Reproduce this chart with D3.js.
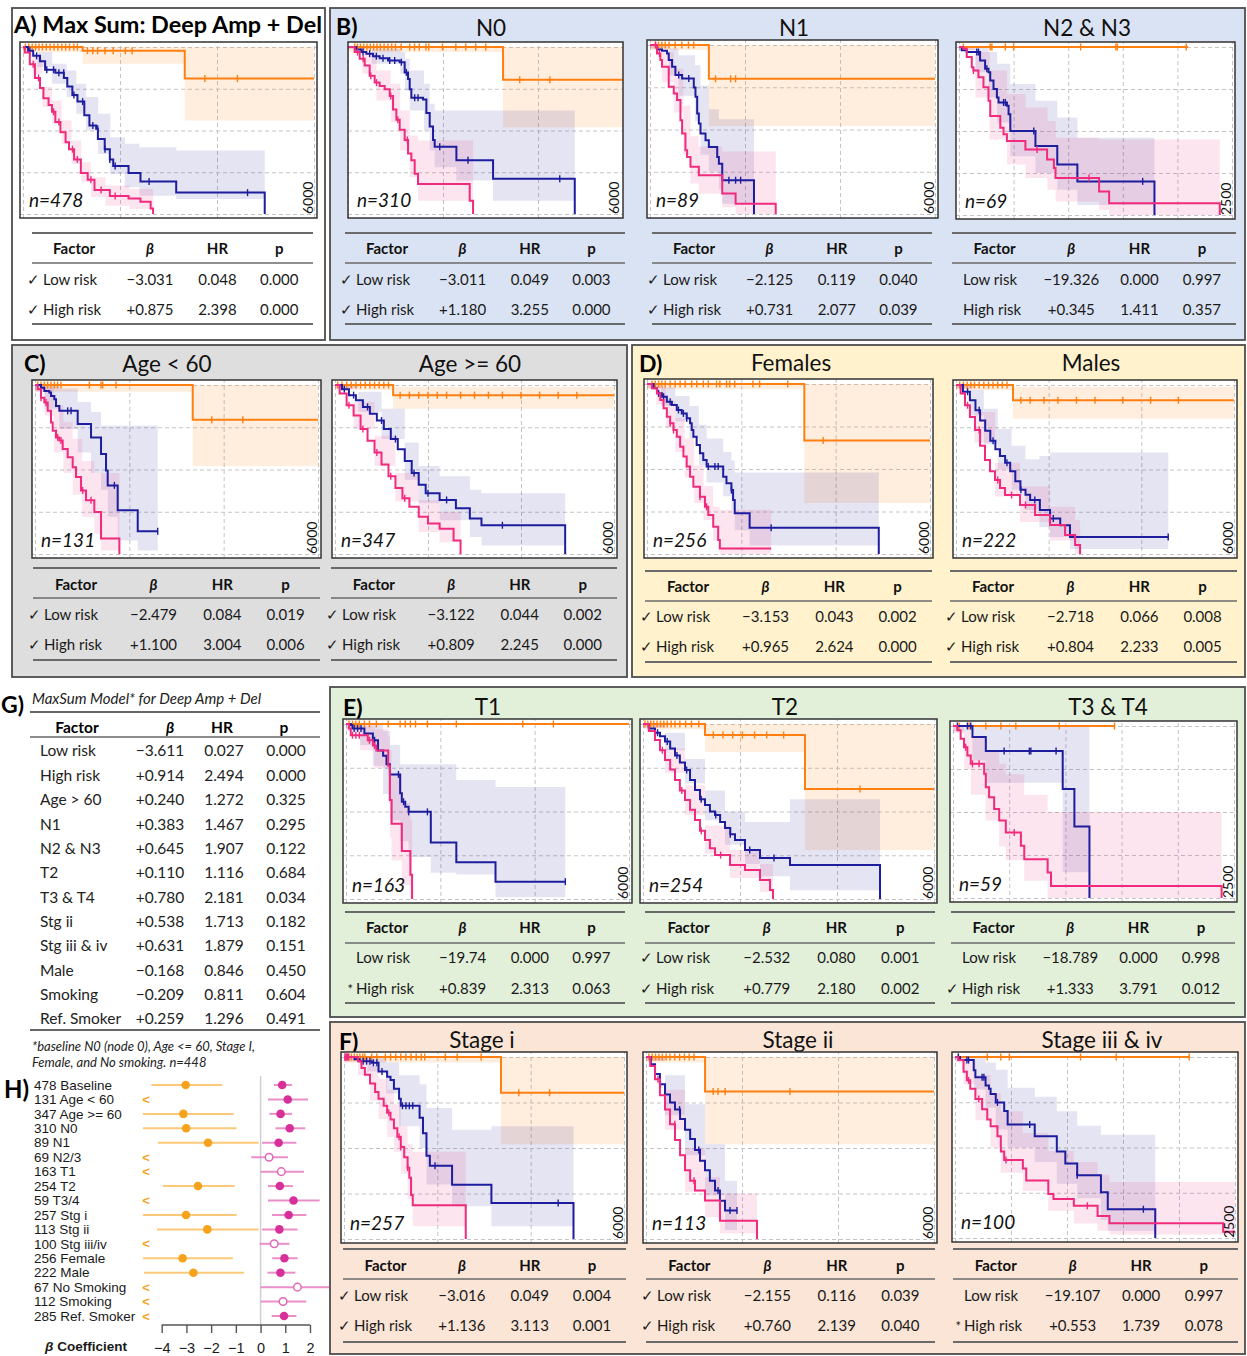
<!DOCTYPE html>
<html><head><meta charset="utf-8">
<script src="https://cdn.jsdelivr.net/npm/d3@7"></script>
<style>
body{margin:0;background:#fff;}
svg{display:block;font-family:Lato,'Open Sans',sans-serif;}
</style></head><body>
<script>
// ---------- Kaplan-Meier curves: s = [time, survival] steps, c = censor times, ci = [time, lower, upper]
const A_low = {s:[[0,1],[1230,0.978],[3335,0.811],[6000,0.811]], c:[50,120,190,260,330,400,480,560,640,720,800,880,960,1050,1120,1330,1440,1540,1690,1860,2110,2250,3750,4420], ci:[[0,0.97,1],[1230,0.9,1],[3335,0.56,1],[6000,0.56,1]]};
const A_mid = {s:[[0,1],[105,0.978],[210,0.947],[350,0.915],[456,0.864],[667,0.846],[842,0.815],[913,0.764],[1018,0.713],[1123,0.673],[1264,0.591],[1369,0.53],[1509,0.51],[1544,0.449],[1685,0.388],[1790,0.327],[1860,0.287],[2176,0.246],[2422,0.195],[3159,0.128],[4984,0]], c:[140,280,490,630,740,840,1050,1230,1440,1540,1690,1790,1900,2600,4630], ci:[[0,0.99,1],[300,0.88,0.97],[600,0.78,0.9],[900,0.7,0.86],[1100,0.6,0.78],[1300,0.5,0.7],[1550,0.36,0.6],[1800,0.24,0.46],[2100,0.16,0.42],[2400,0.11,0.4],[3160,0.09,0.38],[4984,0.09,0.38]]};
const A_high = {s:[[0,1],[35,0.967],[140,0.896],[246,0.815],[351,0.754],[421,0.693],[527,0.652],[597,0.612],[667,0.551],[772,0.49],[878,0.429],[948,0.388],[1053,0.327],[1193,0.246],[1334,0.205],[1474,0.144],[1790,0.108],[2176,0.093],[2422,0.073],[2632,0.033],[2682,0]], c:[210,320,630,740,1020,1120,1400,1610,1900], ci:[[0,0.98,1],[200,0.84,0.94],[400,0.64,0.76],[600,0.54,0.68],[800,0.42,0.56],[1000,0.3,0.44],[1200,0.19,0.31],[1400,0.1,0.22],[1700,0.05,0.17],[2200,0.03,0.15],[2682,0.03,0.15]]};

const N0_low = {s:[[0,1],[3264,0.804],[6000,0.804]], c:[140,200,260,330,400,470,540,610,680,760,840,920,1000,1120,1300,1400,1500,1640,1700,1990,2270,2480,2690,2900,3615,4250], ci:[[0,0.97,1],[3264,0.52,1],[6000,0.52,1]]};
const N0_mid = {s:[[0,1],[175,0.985],[281,0.97],[386,0.96],[527,0.945],[667,0.933],[842,0.919],[1088,0.909],[1193,0.848],[1264,0.808],[1299,0.747],[1334,0.696],[1580,0.686],[1650,0.605],[1720,0.524],[1790,0.443],[1825,0.403],[2282,0.322],[3054,0.211],[4774,0]], c:[316,456,597,737,878,983,1123,1229,1404,1474,1931,2527,4458], ci:[[0,0.99,1],[500,0.9,0.99],[1100,0.84,0.97],[1200,0.74,0.93],[1300,0.62,0.86],[1600,0.5,0.78],[1720,0.38,0.66],[1825,0.28,0.62],[2282,0.2,0.62],[3054,0.08,0.62],[4774,0.08,0.62]]};
const N0_high = {s:[[0,1],[140,0.97],[246,0.929],[351,0.889],[456,0.828],[562,0.787],[667,0.767],[772,0.747],[878,0.706],[948,0.626],[1018,0.565],[1088,0.504],[1193,0.443],[1264,0.362],[1334,0.322],[1404,0.241],[1474,0.18],[2562,0.079],[2633,0]], c:[200,320,480,600,900,1050,1250], ci:[[0,0.99,1],[300,0.84,0.96],[600,0.68,0.86],[900,0.55,0.78],[1100,0.38,0.62],[1300,0.22,0.47],[1474,0.08,0.44],[2633,0.08,0.44]]};

const N1_low = {s:[[0,1],[1239,0.8],[6000,0.8]], c:[110,180,250,320,400,530,670,810,920,1380,1697,1802], ci:[[0,0.97,1],[1239,0.52,1],[6000,0.52,1]]};
const N1_mid = {s:[[0,1],[148,0.974],[253,0.966],[359,0.95],[394,0.911],[465,0.872],[535,0.822],[676,0.802],[922,0.749],[957,0.694],[993,0.595],[1028,0.536],[1063,0.476],[1169,0.437],[1239,0.397],[1415,0.338],[1450,0.298],[1521,0.2],[2189,0]], c:[605,816,1661,1802,1908], ci:[[0,0.98,1],[400,0.82,0.98],[600,0.7,0.94],[950,0.55,0.88],[1063,0.35,0.76],[1239,0.25,0.62],[1450,0.15,0.56],[1521,0.06,0.56],[2189,0.06,0.56]]};
const N1_high = {s:[[0,1],[148,0.95],[218,0.911],[253,0.872],[394,0.753],[500,0.713],[570,0.674],[641,0.555],[676,0.476],[746,0.377],[781,0.338],[852,0.279],[1028,0.229],[1521,0.121],[1802,0.061],[2647,0]], c:[120,200], ci:[[0,0.98,1],[250,0.78,0.96],[500,0.6,0.86],[700,0.35,0.64],[850,0.18,0.46],[1028,0.12,0.4],[1521,0.04,0.37],[1802,0,0.37],[2647,0,0.37]]};

const N23_low = {s:[[0,1],[2097,1]], c:[40,286,301,424,500,1114,1437,1450,2081], ci:[]};
const N23_mid = {s:[[0,1],[25,0.98],[71,0.97],[193,0.92],[239,0.87],[270,0.85],[286,0.8],[316,0.75],[347,0.7],[362,0.67],[439,0.65],[454,0.6],[470,0.5],[700,0.41],[900,0.3],[1084,0.2],[1790,0]], c:[163,178,255,408,424,685,1682], ci:[[0,0.98,1],[150,0.85,1],[270,0.7,0.97],[350,0.55,0.9],[470,0.35,0.78],[700,0.25,0.68],[900,0.15,0.58],[1084,0.06,0.46],[1790,0.06,0.46]]};
const N23_high = {s:[[0,1],[40,0.99],[71,0.94],[117,0.88],[132,0.86],[178,0.82],[224,0.76],[270,0.68],[286,0.59],[378,0.52],[408,0.48],[439,0.44],[608,0.39],[807,0.33],[869,0.28],[884,0.22],[1283,0.14],[1375,0.07],[2388,0]], c:[132,715,1191], ci:[[0,0.98,1],[150,0.7,0.97],[280,0.45,0.86],[440,0.3,0.72],[610,0.22,0.64],[810,0.15,0.56],[884,0.08,0.46],[1283,0.03,0.45],[1375,0,0.45],[2388,0,0.45]]};

const Age1_low = {s:[[0,1],[3344,0.794],[6000,0.794]], c:[57,127,198,269,339,410,480,550,1152,1400,1435,1718,3747,4405], ci:[[0,0.96,1],[3344,0.52,1],[6000,0.52,1]]};
const Age1_mid = {s:[[0,1],[127,0.984],[198,0.965],[304,0.955],[339,0.935],[410,0.916],[445,0.876],[516,0.847],[905,0.769],[1188,0.69],[1400,0.592],[1506,0.494],[1541,0.406],[1753,0.259],[2178,0.135],[2602,0.135]], c:[693,764,1683,2602], ci:[[0,0.96,1],[200,0.86,1],[516,0.74,0.98],[905,0.6,0.9],[1188,0.48,0.84],[1400,0.38,0.76],[1541,0.22,0.76],[1753,0.08,0.76],[2178,0.02,0.76],[2602,0.02,0.76]]};
const Age1_high = {s:[[0,1],[57,0.975],[127,0.925],[198,0.896],[269,0.847],[339,0.778],[375,0.73],[445,0.69],[516,0.671],[587,0.622],[693,0.573],[799,0.514],[870,0.455],[976,0.376],[1082,0.318],[1258,0.249],[1400,0.092],[1789,0]], c:[127,233,481,551,1011,1188], ci:[[0,0.97,1],[200,0.82,0.99],[400,0.6,0.88],[600,0.48,0.78],[800,0.35,0.68],[1000,0.22,0.55],[1258,0.12,0.48],[1400,0.02,0.48],[1789,0.02,0.48]]};

const Age2_low = {s:[[0,1],[1250,0.94],[6000,0.94]], c:[60,150,250,350,450,550,650,750,850,950,1050,1150,1400,1600,1800,2000,2200,2400,2700,3000,3300,3600,4000,4400,4800,5200], ci:[[0,0.97,1],[1250,0.86,0.99],[6000,0.86,0.99]]};
const Age2_mid = {s:[[0,1],[150,0.975],[300,0.94],[450,0.91],[600,0.87],[750,0.83],[900,0.79],[1050,0.74],[1200,0.68],[1350,0.62],[1500,0.55],[1650,0.48],[1800,0.41],[1950,0.36],[2250,0.32],[2600,0.27],[2900,0.21],[3150,0.17],[4950,0]], c:[200,400,700,1000,1300,1700,2000,2400,3600], ci:[[0,0.98,1],[500,0.84,0.96],[1000,0.68,0.86],[1500,0.44,0.66],[1800,0.3,0.52],[2250,0.2,0.46],[2900,0.1,0.38],[3150,0.05,0.36],[4950,0.05,0.36]]};
const Age2_high = {s:[[0,1],[100,0.95],[250,0.88],[400,0.82],[550,0.74],[700,0.67],[850,0.6],[1000,0.53],[1150,0.46],[1300,0.39],[1450,0.33],[1600,0.28],[1800,0.22],[2000,0.18],[2250,0.15],[2550,0.08],[2700,0]], c:[300,600,900,1200,1500], ci:[[0,0.98,1],[400,0.74,0.9],[850,0.52,0.7],[1300,0.31,0.48],[1800,0.13,0.32],[2250,0.07,0.25],[2700,0.07,0.25]]};

const Fem_low = {s:[[0,1],[3335,0.667],[6000,0.667]], c:[105,176,246,316,386,491,597,702,807,948,1053,1193,1299,1474,1544,1685,1755,1860,2246,2387,2984,3735], ci:[[0,0.97,1],[3335,0.3,1],[6000,0.3,1]]};
const Fem_mid = {s:[[0,1],[140,0.975],[211,0.945],[316,0.925],[421,0.896],[527,0.876],[632,0.847],[737,0.827],[842,0.798],[913,0.769],[948,0.729],[983,0.69],[1053,0.641],[1123,0.592],[1193,0.553],[1264,0.514],[1615,0.455],[1685,0.416],[1790,0.376],[1825,0.318],[1860,0.239],[2176,0.155],[4914,0]], c:[246,351,491,667,772,842,1299,1439,1509,1790,2632], ci:[[0,0.98,1],[300,0.87,0.98],[600,0.78,0.93],[900,0.68,0.87],[1100,0.52,0.76],[1264,0.42,0.68],[1615,0.34,0.6],[1790,0.26,0.55],[1860,0.14,0.48],[2176,0.05,0.48],[4914,0.05,0.48]]};
const Fem_high = {s:[[0,1],[105,0.975],[211,0.945],[281,0.906],[351,0.857],[421,0.808],[491,0.769],[562,0.729],[632,0.69],[702,0.631],[772,0.573],[842,0.514],[913,0.455],[983,0.396],[1123,0.337],[1229,0.278],[1299,0.229],[1404,0.161],[1509,0.082],[1544,0.033],[2632,0.033]], c:[491,562,1123,1264], ci:[[0,0.98,1],[200,0.88,0.99],[400,0.74,0.9],[600,0.6,0.8],[800,0.45,0.68],[1000,0.3,0.52],[1200,0.2,0.4],[1400,0.08,0.28],[1544,0,0.26],[2632,0,0.26]]};

const Male_low = {s:[[0,1],[1230,0.91],[6000,0.91]], c:[80,160,240,320,400,500,600,700,800,900,1000,1100,1400,1600,1900,2200,2600,3000,3600,4200,4800], ci:[[0,0.97,1],[1230,0.8,0.99],[6000,0.8,0.99]]};
const Male_mid = {s:[[0,1],[150,0.96],[300,0.91],[420,0.85],[520,0.79],[630,0.73],[740,0.67],[850,0.62],[950,0.58],[1060,0.54],[1170,0.49],[1280,0.43],[1390,0.38],[1500,0.35],[1600,0.32],[1810,0.26],[2030,0.21],[2250,0.17],[2460,0.1],[4580,0.1]], c:[250,500,800,1100,1400,1700,2100,4580], ci:[[0,0.98,1],[300,0.82,0.97],[600,0.65,0.86],[900,0.5,0.74],[1200,0.38,0.64],[1500,0.26,0.56],[1800,0.16,0.58],[2030,0.1,0.6],[2460,0.03,0.6],[4580,0.03,0.6]]};
const Male_high = {s:[[0,1],[100,0.95],[194,0.88],[300,0.81],[410,0.734],[520,0.64],[626,0.556],[734,0.49],[842,0.438],[950,0.39],[1058,0.349],[1382,0.29],[1706,0.231],[2030,0.172],[2354,0.112],[2570,0.053],[2678,0]], c:[250,500,900,1200,1500], ci:[[0,0.98,1],[400,0.66,0.84],[842,0.34,0.54],[1382,0.19,0.4],[2030,0.08,0.28],[2570,0,0.2],[2678,0,0.2]]};

const T1_low = {s:[[0,1],[6000,1]], c:[65,137,209,282,390,498,643,895,1148,1256,1364,1473,1726,2339,3747,4397], ci:[]};
const T1_mid = {s:[[0,1],[101,0.994],[137,0.975],[390,0.946],[570,0.907],[679,0.848],[787,0.819],[859,0.77],[931,0.712],[1148,0.605],[1184,0.556],[1256,0.527],[1328,0.498],[1798,0.323],[2339,0.21],[3170,0.099],[4650,0.099]], c:[173,245,318,606,931,1112,1220,1328,1726,4650], ci:[[0,0.97,1],[300,0.88,1],[570,0.76,1],[787,0.6,0.96],[931,0.45,0.88],[1148,0.33,0.77],[1328,0.24,0.77],[1798,0.15,0.77],[2339,0.14,0.68],[3170,0.01,0.64],[4650,0.01,0.64]]};
const T1_high = {s:[[0,1],[65,0.975],[101,0.936],[462,0.907],[570,0.877],[643,0.848],[895,0.761],[931,0.566],[967,0.43],[1184,0.274],[1365,0.138],[1401,0]], c:[137,209,282,498,606], ci:[[0,0.96,1],[300,0.85,0.99],[600,0.75,0.97],[895,0.55,0.93],[931,0.35,0.85],[967,0.22,0.72],[1184,0.08,0.55],[1365,0,0.45],[1401,0,0.45]]};

const T2_low = {s:[[0,1],[1278,0.937],[3340,0.629],[6000,0.629]], c:[40,100,160,220,290,360,430,500,580,660,760,880,1000,1150,1450,1650,1850,2050,2300,2550,2900,4474], ci:[[0,0.97,1],[1278,0.84,1],[3340,0.28,1],[6000,0.28,1]]};
const T2_mid = {s:[[0,1],[120,0.975],[247,0.95],[350,0.93],[454,0.9],[560,0.86],[660,0.82],[760,0.78],[866,0.737],[970,0.68],[1072,0.623],[1175,0.57],[1278,0.537],[1380,0.5],[1485,0.48],[1590,0.44],[1691,0.406],[1800,0.37],[1897,0.337],[2103,0.28],[2412,0.234],[3031,0.194],[4887,0]], c:[300,500,700,900,1200,1500,1800,2200,2700], ci:[[0,0.98,1],[454,0.85,0.95],[866,0.66,0.8],[1278,0.45,0.62],[1691,0.31,0.5],[2103,0.2,0.44],[2412,0.13,0.44],[3031,0.05,0.57],[4887,0.05,0.57]]};
const T2_high = {s:[[0,1],[120,0.96],[247,0.909],[350,0.85],[454,0.794],[560,0.74],[660,0.68],[760,0.62],[866,0.566],[970,0.51],[1072,0.451],[1175,0.39],[1278,0.337],[1380,0.29],[1485,0.251],[1794,0.194],[2103,0.166],[2412,0.109],[2619,0.051],[2680,0]], c:[400,800,1200,1600], ci:[[0,0.98,1],[454,0.72,0.86],[866,0.48,0.65],[1278,0.26,0.42],[1794,0.12,0.28],[2412,0.04,0.2],[2680,0.04,0.2]]};

const T34_low = {s:[[0,1],[1437,1]], c:[54,143,292,426,559,946,1437], ci:[]};
const T34_mid = {s:[[0,1],[173,0.936],[292,0.854],[976,0.634],[1080,0.416],[1214,0]], c:[39,128,158,455,679,693,917], ci:[[0,0.97,1],[173,0.8,1],[292,0.67,1],[976,0.15,1],[1214,0.15,1]]};
const T34_high = {s:[[0,1],[39,0.975],[68,0.926],[98,0.877],[128,0.829],[158,0.78],[277,0.722],[292,0.644],[321,0.586],[366,0.518],[411,0.45],[470,0.381],[604,0.304],[634,0.226],[842,0.148],[872,0.07],[2390,0]], c:[113,173,232,545], ci:[[0,0.96,1],[100,0.75,0.97],[160,0.6,0.93],[290,0.45,0.85],[410,0.3,0.78],[470,0.22,0.72],[634,0.1,0.6],[842,0,0.5],[2390,0,0.5]]};

const S1_low = {s:[[0,1],[3364,0.804],[6000,0.804]], c:[44,100,160,220,280,340,400,447,594,704,887,997,1107,1217,1327,1437,1547,1656,1730,2170,2426,2939,3746,4405], ci:[[0,0.97,1],[3364,0.52,1],[6000,0.52,1]]};
const S1_mid = {s:[[0,1],[227,0.987],[337,0.977],[594,0.968],[740,0.921],[924,0.892],[997,0.874],[1070,0.826],[1180,0.77],[1217,0.732],[1620,0.666],[1693,0.581],[1767,0.458],[1840,0.402],[2316,0.298],[3159,0.198],[4918,0]], c:[410,484,557,630,704,814,1253,1327,1400,1473,1950,4589], ci:[[0,0.98,1],[500,0.92,1],[900,0.8,0.97],[1180,0.62,0.9],[1620,0.5,0.85],[1767,0.3,0.72],[2316,0.18,0.6],[3159,0.07,0.62],[4918,0.07,0.62]]};
const S1_high = {s:[[0,1],[300,0.977],[374,0.94],[447,0.902],[557,0.855],[667,0.808],[740,0.77],[850,0.732],[924,0.694],[997,0.657],[1070,0.609],[1143,0.562],[1217,0.506],[1290,0.449],[1363,0.392],[1400,0.336],[1437,0.242],[1473,0.185],[2609,0]], c:[20,40,60,80,100,960,1180,1217,1363], ci:[[0,0.97,1],[300,0.9,1],[557,0.76,0.95],[740,0.66,0.88],[924,0.56,0.82],[1070,0.48,0.74],[1217,0.36,0.62],[1363,0.22,0.52],[1473,0.07,0.48],[2609,0.07,0.48]]};

const S2_low = {s:[[0,1],[1230,0.81],[6000,0.81]], c:[60,130,200,270,340,420,500,600,700,800,900,1000,1400,1500,1650,3000], ci:[[0,0.97,1],[1230,0.52,1],[6000,0.52,1]]};
const S2_mid = {s:[[0,1],[100,0.96],[188,0.906],[290,0.85],[396,0.794],[500,0.75],[604,0.711],[710,0.66],[813,0.6],[920,0.55],[1021,0.489],[1125,0.43],[1229,0.378],[1330,0.32],[1438,0.267],[1540,0.21],[1646,0.156],[1896,0.156]], c:[300,700,1100,1500,1750,1896], ci:[[0,0.98,1],[396,0.68,0.9],[813,0.46,0.74],[1229,0.24,0.52],[1646,0.05,0.32],[1896,0.05,0.32]]};
const S2_high = {s:[[0,1],[90,0.95],[188,0.878],[290,0.79],[396,0.711],[500,0.63],[604,0.544],[710,0.46],[813,0.378],[920,0.32],[1021,0.267],[1229,0.211],[1542,0.1],[2313,0]], c:[250,600,1000], ci:[[0,0.98,1],[396,0.6,0.82],[813,0.26,0.5],[1229,0.12,0.34],[1542,0.03,0.25],[2313,0.03,0.25]]};

const S34_low = {s:[[0,1],[2091,1]], c:[30,288,409,485,1121,1439,2091], ci:[]};
const S34_mid = {s:[[0,1],[45,0.983],[167,0.927],[182,0.888],[273,0.843],[303,0.824],[318,0.796],[364,0.749],[439,0.702],[470,0.627],[712,0.562],[909,0.478],[985,0.412],[1091,0.346],[1303,0.253],[1364,0.159],[1788,0]], c:[30,106,121,242,258,379,667,1091,1682], ci:[[0,0.98,1],[167,0.82,1],[273,0.72,0.97],[364,0.6,0.93],[470,0.5,0.83],[712,0.42,0.78],[909,0.3,0.7],[1091,0.22,0.62],[1303,0.1,0.57],[1364,0.04,0.57],[1788,0.04,0.57]]};
const S34_high = {s:[[0,1],[30,0.983],[76,0.918],[106,0.871],[136,0.824],[182,0.768],[242,0.712],[288,0.655],[318,0.618],[379,0.562],[409,0.478],[439,0.431],[606,0.384],[636,0.318],[833,0.243],[879,0.215],[1061,0.178],[1273,0.122],[1379,0.081],[2394,0.034],[2500,0.034]], c:[121,212,455,1182], ci:[[0,0.97,1],[76,0.85,0.98],[182,0.65,0.9],[318,0.5,0.8],[409,0.36,0.7],[606,0.26,0.58],[833,0.15,0.48],[1061,0.08,0.42],[1273,0.04,0.35],[1379,0.02,0.31],[2500,0.02,0.31]]};

// ---------- Cox model summaries under each curve: [mark, factor, beta, HR, p]
const A_stats = [["✓","Low risk","−3.031","0.048","0.000"],["✓","High risk","+0.875","2.398","0.000"]];
const N0_stats = [["✓","Low risk","−3.011","0.049","0.003"],["✓","High risk","+1.180","3.255","0.000"]];
const N1_stats = [["✓","Low risk","−2.125","0.119","0.040"],["✓","High risk","+0.731","2.077","0.039"]];
const N23_stats = [["","Low risk","−19.326","0.000","0.997"],["","High risk","+0.345","1.411","0.357"]];
const Age1_stats = [["✓","Low risk","−2.479","0.084","0.019"],["✓","High risk","+1.100","3.004","0.006"]];
const Age2_stats = [["✓","Low risk","−3.122","0.044","0.002"],["✓","High risk","+0.809","2.245","0.000"]];
const Fem_stats = [["✓","Low risk","−3.153","0.043","0.002"],["✓","High risk","+0.965","2.624","0.000"]];
const Male_stats = [["✓","Low risk","−2.718","0.066","0.008"],["✓","High risk","+0.804","2.233","0.005"]];
const T1_stats = [["","Low risk","−19.74","0.000","0.997"],["*","High risk","+0.839","2.313","0.063"]];
const T2_stats = [["✓","Low risk","−2.532","0.080","0.001"],["✓","High risk","+0.779","2.180","0.002"]];
const T34_stats = [["","Low risk","−18.789","0.000","0.998"],["✓","High risk","+1.333","3.791","0.012"]];
const S1_stats = [["✓","Low risk","−3.016","0.049","0.004"],["✓","High risk","+1.136","3.113","0.001"]];
const S2_stats = [["✓","Low risk","−2.155","0.116","0.039"],["✓","High risk","+0.760","2.139","0.040"]];
const S34_stats = [["","Low risk","−19.107","0.000","0.997"],["*","High risk","+0.553","1.739","0.078"]];

// ---------- Multivariable model (G)
const G_factors = ["Low risk","High risk","Age > 60","N1","N2 & N3","T2","T3 & T4","Stg ii","Stg iii & iv","Male","Smoking","Ref. Smoker"];
const G_beta = ["−3.611","+0.914","+0.240","+0.383","+0.645","+0.110","+0.780","+0.538","+0.631","−0.168","−0.209","+0.259"];
const G_hr = ["0.027","2.494","1.272","1.467","1.907","1.116","2.181","1.713","1.879","0.846","0.811","1.296"];
const G_p = ["0.000","0.000","0.325","0.295","0.122","0.684","0.034","0.182","0.151","0.450","0.604","0.491"];

// ---------- Forest plot (H): [beta, lower, upper] for low risk; [beta, lower, upper, significant] for high risk
const H_labels = ["478 Baseline","131 Age < 60","347 Age >= 60","310 N0","89 N1","69 N2/3","163 T1","254 T2","59 T3/4","257 Stg i","113 Stg ii","100 Stg iii/iv","256 Female","222 Male","67 No Smoking","112 Smoking","285 Ref. Smoker"];
const H_low = [[-3.031,-4.42,-1.56],null,[-3.122,-4.76,-1.09],[-3.011,-4.76,-0.97],[-2.125,-4.15,-0.08],null,null,[-2.532,-3.95,-1.05],null,[-3.016,-4.76,-0.97],[-2.155,-4.19,-0.08],null,[-3.153,-4.76,-1.12],[-2.718,-4.72,-0.67],null,null,null];
const H_high = [[0.875,0.54,1.27,1],[1.100,0.3,1.92,1],[0.809,0.36,1.27,1],[1.180,0.6,1.81,1],[0.731,0.06,1.45,1],[0.345,-0.38,1.11,0],[0.839,0,1.76,0],[0.779,0.3,1.31,1],[1.333,0.3,2.39,1],[1.136,0.46,1.85,1],[0.760,0.06,1.5,1],[0.553,-0.04,1.17,0],[0.965,0.47,1.5,1],[0.804,0.28,1.41,1],[1.49,0,3.0,0],[0.91,0,1.85,0],[0.95,0.45,1.45,1]];
const H_ticks = [-4,-3,-2,-1,0,1,2];

// ---------- layout
const COL = {low:'#ff7f11', mid:'#1d1d9e', high:'#f02a7c'};
const CI_OP = [0.14, 0.12, 0.12];
const tabY1=[233,249,263,280,310,324], tabYC=[568,585,598,615,645,660], tabYD=[571,587,601,617,647,662], tabY3=[912,928,943,958,989,1003], tabY4=[1249,1266,1279,1296,1326,1342];

const plots = [
 {box:[20,42,297,176], max:6000, n:478, curves:[A_low,A_mid,A_high], stats:A_stats, rule:[32,313], ty:tabY1},
 {box:[348,42,275,176], xr:[348,633], max:6000, n:310, curves:[N0_low,N0_mid,N0_high], stats:N0_stats, rule:[345,625], ty:tabY1, title:"N0", tx:491, tyl:36},
 {box:[647,40,291,178], max:6000, n:89, curves:[N1_low,N1_mid,N1_high], stats:N1_stats, rule:[652,932], ty:tabY1, title:"N1", tx:794, tyl:36},
 {box:[956,42,279,177], max:2500, n:69, curves:[N23_low,N23_mid,N23_high], stats:N23_stats, rule:[952,1236], ty:tabY1, title:"N2 & N3", tx:1087, tyl:36},
 {box:[32,380,289,178], max:6000, n:131, curves:[Age1_low,Age1_mid,Age1_high], stats:Age1_stats, rule:[33,320], ty:tabYC, title:"Age < 60", tx:167, tyl:372},
 {box:[332,380,285,178], max:6000, n:347, curves:[Age2_low,Age2_mid,Age2_high], stats:Age2_stats, rule:[331,617], ty:tabYC, title:"Age >= 60", tx:470, tyl:372},
 {box:[644,379,289,179], max:6000, n:256, curves:[Fem_low,Fem_mid,Fem_high], stats:Fem_stats, rule:[645,932], ty:tabYD, title:"Females", tx:791, tyl:371},
 {box:[953,380,284,178], max:6000, n:222, curves:[Male_low,Male_mid,Male_high], stats:Male_stats, rule:[950,1237], ty:tabYD, title:"Males", tx:1091, tyl:371},
 {box:[343,719,289,184], max:6000, n:163, curves:[T1_low,T1_mid,T1_high], stats:T1_stats, rule:[345,625], ty:tabY3, title:"T1", tx:488, tyl:715},
 {box:[640,719,297,184], max:6000, n:254, curves:[T2_low,T2_mid,T2_high], stats:T2_stats, rule:[645,935], ty:tabY3, title:"T2", tx:785, tyl:715},
 {box:[950,721,287,181], max:2500, n:59, curves:[T34_low,T34_mid,T34_high], stats:T34_stats, rule:[951,1235], ty:tabY3, title:"T3 & T4", tx:1108, tyl:715},
 {box:[341,1052,286,191], max:6000, n:257, curves:[S1_low,S1_mid,S1_high], stats:S1_stats, rule:[343,626], ty:tabY4, title:"Stage i", tx:482, tyl:1048},
 {box:[643,1052,294,191], max:6000, n:113, curves:[S2_low,S2_mid,S2_high], stats:S2_stats, rule:[646,935], ty:tabY4, title:"Stage ii", tx:798, tyl:1048},
 {box:[952,1052,286,190], max:2500, n:100, curves:[S34_low,S34_mid,S34_high], stats:S34_stats, rule:[953,1238], ty:tabY4, title:"Stage iii & iv", tx:1102, tyl:1048}
];

const frames = [
 {x:12,y:8,w:313,h:332,fill:'#ffffff'},
 {x:330,y:8,w:915,h:332,fill:'#dae3f3'},
 {x:12,y:345,w:615,h:332,fill:'#dedede'},
 {x:632,y:345,w:613,h:332,fill:'#fff2cc'},
 {x:330,y:687,w:915,h:330,fill:'#e2efd9'},
 {x:330,y:1022,w:915,h:332,fill:'#fbe5d6'}
];
const letters = [["B)",336,35],["C)",24,372],["D)",639,372],["E)",343,716],["F)",339,1050]];

const svg = d3.select('body').append('svg').attr('width',1247).attr('height',1356);

// ---------- G: multivariable table
(function(){
  const g = svg.append('g');
  g.append('text').attr('x',1).attr('y',713).attr('font-size',23).attr('font-weight',700).text('G)');
  g.append('text').attr('x',32).attr('y',704).attr('font-size',15).attr('font-style','italic').attr('fill','#222').text('MaxSum Model* for Deep Amp + Del');
  const rule=(y,w)=>g.append('line').attr('x1',30).attr('x2',320).attr('y1',y).attr('y2',y).attr('stroke','#666').attr('stroke-width',w);
  rule(712,2.2); rule(737,1.6); rule(1030,2.2);
  const hdr=[['Factor',77,'normal'],['β',170,'italic'],['HR',222,'normal'],['p',284,'normal']];
  hdr.forEach(h=>g.append('text').attr('x',h[1]).attr('y',728).attr('dy','0.35em').attr('text-anchor','middle').attr('font-size',15.5).attr('font-weight',700).attr('font-style',h[2]).text(h[0]));
  const ry = d3.scaleLinear().domain([0,11]).range([751,1019]);
  G_factors.forEach((f,i)=>{
    const y=ry(i);
    const t=(x,s,a)=>g.append('text').attr('x',x).attr('y',y).attr('dy','0.35em').attr('text-anchor',a).attr('font-size',15.5).attr('fill','#222').text(s);
    t(40,f,'start'); t(160,G_beta[i],'middle'); t(224,G_hr[i],'middle'); t(286,G_p[i],'middle');
  });
  g.append('text').attr('x',32).attr('y',1051).attr('font-size',13).attr('font-style','italic').attr('fill','#222').text('*baseline N0 (node 0), Age <= 60, Stage I,');
  g.append('text').attr('x',32).attr('y',1067).attr('font-size',13).attr('font-style','italic').attr('fill','#222').text('Female, and No smoking. n=448');
})();

// ---------- H: forest plot of beta coefficients
(function(){
  const g = svg.append('g');
  const x = d3.scaleLinear().domain([-4,2]).range([161.7,310]);
  const y = d3.scaleLinear().domain([0,16]).range([1085,1316]);
  const sans = '"Liberation Sans",Arial,sans-serif';
  g.append('text').attr('x',4).attr('y',1098).attr('font-size',24).attr('font-weight',700).text('H)');
  g.append('line').attr('x1',x(0)).attr('x2',x(0)).attr('y1',1076).attr('y2',1325).attr('stroke','#cfcfcf').attr('stroke-width',1.5);
  H_labels.forEach((l,i)=>g.append('text').attr('x',34).attr('y',y(i)).attr('dy','0.35em').attr('font-family',sans).attr('font-size',13.5).attr('fill','#1a1a1a').text(l));
  H_low.forEach((d,i)=>{
    if(!d){ g.append('text').attr('x',146).attr('y',y(i)).attr('dy','0.35em').attr('text-anchor','middle').attr('font-family',sans).attr('font-weight',700).attr('font-size',13).attr('fill','#f7a426').text('<'); return; }
    g.append('line').attr('x1',x(d[1])).attr('x2',x(d[2])).attr('y1',y(i)).attr('y2',y(i)).attr('stroke','#fbc979').attr('stroke-width',2);
    g.append('circle').attr('cx',x(d[0])).attr('cy',y(i)).attr('r',4.3).attr('fill','#f7a21d');
  });
  H_high.forEach((d,i)=>{
    g.append('line').attr('x1',x(d[1])).attr('x2',Math.min(x(d[2]),329)).attr('y1',y(i)).attr('y2',y(i)).attr('stroke','#ea8fc9').attr('stroke-width',2);
    g.append('circle').attr('cx',x(d[0])).attr('cy',y(i)).attr('r',d[3]?4.3:3.8).attr('fill',d[3]?'#d8309a':'#fff').attr('stroke',d[3]?'none':'#e068b4').attr('stroke-width',1.5);
  });
  const ax = g.append('g').attr('transform','translate(0,1325)').call(d3.axisBottom(x).tickValues(H_ticks).tickSize(8).tickPadding(10).tickFormat(d3.format('d')));
  ax.select('.domain').attr('stroke','#555').attr('stroke-width',1.4).attr('d',`M${x(-4)},0H${x(2)}`);
  ax.selectAll('.tick line').attr('stroke','#555').attr('stroke-width',1.4);
  ax.selectAll('.tick text').attr('font-family',sans).attr('font-size',14.5).attr('fill','#1a1a1a');
  const lab = g.append('text').attr('x',45).attr('y',1351).attr('font-family',sans).attr('font-size',13.5).attr('font-weight',700).attr('fill','#1a1a1a');
  lab.append('tspan').attr('font-style','italic').text('β');
  lab.append('tspan').text(' Coefficient');
})();

// ---------- panel frames
svg.selectAll('rect.frame').data(frames).join('rect').attr('class','frame')
  .attr('x',d=>d.x).attr('y',d=>d.y).attr('width',d=>d.w).attr('height',d=>d.h)
  .attr('fill',d=>d.fill).attr('stroke','#4d4d4d').attr('stroke-width',1.8);

svg.append('text').attr('x',14).attr('y',33).attr('font-size',22.4).attr('font-weight',700).attr('textLength',308).attr('lengthAdjust','spacingAndGlyphs').text('A) Max Sum: Deep Amp + Del');
letters.forEach(l=>svg.append('text').attr('x',l[1]).attr('y',l[2]).attr('font-size',23).attr('font-weight',700).text(l[0]));

// ---------- Kaplan-Meier panel
function survAt(steps,t){ let s=steps[0][1]; for(const p of steps){ if(p[0]<=t) s=p[1]; else break; } return s; }

function drawKM(p,i){
  const [bx,by,bw,bh]=p.box;
  const g = svg.append('g');
  const x = d3.scaleLinear().domain([0,p.max]).range(p.xr || [bx+3,bx+bw-3]);
  const y = d3.scaleLinear().domain([0,1]).range([by+bh-4,by+5]);
  if(p.title) g.append('text').attr('x',p.tx).attr('y',p.tyl).attr('text-anchor','middle').attr('font-size',22.5).attr('fill','#111').text(p.title);
  g.append('rect').attr('x',bx).attr('y',by).attr('width',bw).attr('height',bh).attr('fill','#fff');
  const cid='km'+i;
  g.append('clipPath').attr('id',cid).append('rect').attr('x',bx).attr('y',by).attr('width',bw).attr('height',bh);
  const xt = p.max===6000?[0,2000,4000,6000]:[0,500,1000,1500,2000,2500];
  const grid = g.append('g').attr('clip-path',`url(#${cid})`);
  grid.append('g').attr('transform',`translate(0,${by+bh})`).call(d3.axisBottom(x).tickValues(xt).tickSize(-bh).tickFormat(''));
  grid.append('g').attr('transform',`translate(${bx},0)`).call(d3.axisLeft(y).tickValues([0,0.25,0.5,0.75,1]).tickSize(-bw).tickFormat(''));
  grid.selectAll('.domain').remove();
  grid.selectAll('.tick line').attr('stroke','#c4c4c4').attr('stroke-width',1).attr('stroke-dasharray','4,3');
  const pl = g.append('g').attr('clip-path',`url(#${cid})`);
  const keys=['low','mid','high'];
  const area = d3.area().x(d=>x(d[0])).y0(d=>y(d[1])).y1(d=>y(d[2])).curve(d3.curveStepAfter);
  const line = d3.line().x(d=>x(d[0])).y(d=>y(d[1])).curve(d3.curveStepAfter);
  p.curves.forEach((c,k)=>{ if(c.ci.length) pl.append('path').datum(c.ci).attr('d',area).attr('fill',COL[keys[k]]).attr('opacity',CI_OP[k]); });
  p.curves.forEach((c,k)=>{
    pl.append('path').datum(c.s).attr('d',line).attr('fill','none').attr('stroke',COL[keys[k]]).attr('stroke-width',2);
    pl.selectAll(null).data(c.c).join('line')
      .attr('x1',d=>x(d)).attr('x2',d=>x(d))
      .attr('y1',d=>y(survAt(c.s,d))-3.5).attr('y2',d=>y(survAt(c.s,d))+3.5)
      .attr('stroke',COL[keys[k]]).attr('stroke-width',1.4);
  });
  const nd = p.ty===tabY4 ? 13 : 11;
  g.append('text').attr('x',bx+9).attr('y',by+bh-nd).attr('font-size',19).attr('font-style','italic').attr('fill','#111').text('n='+p.n);
  g.append('text').attr('transform',`translate(${bx+bw-4},${by+bh-4}) rotate(-90)`).attr('font-size',14).attr('fill','#111').text(p.max);
  g.append('rect').attr('x',bx).attr('y',by).attr('width',bw).attr('height',bh).attr('fill','none').attr('stroke','#333').attr('stroke-width',1.5);

  // summary table
  const [L,R]=p.rule, W=R-L, ty=p.ty;
  const rl=(yy,w)=>g.append('line').attr('x1',L).attr('x2',R).attr('y1',yy).attr('y2',yy).attr('stroke','#6a6a6a').attr('stroke-width',w);
  rl(ty[0],2.2); rl(ty[2],1.6); rl(ty[5],2.2);
  const cols=[L+0.15*W, L+0.42*W, L+0.66*W, L+0.88*W];
  [['Factor','normal'],['β','italic'],['HR','normal'],['p','normal']].forEach((h,j)=>
    g.append('text').attr('x',cols[j]).attr('y',ty[1]).attr('dy','0.35em').attr('text-anchor','middle').attr('font-size',15).attr('font-weight',700).attr('font-style',h[1]).attr('fill','#111').text(h[0]));
  p.stats.forEach((r,j)=>{
    const yy=ty[3+j];
    const t=(xx,s,a,fs)=>g.append('text').attr('x',xx).attr('y',yy).attr('dy','0.35em').attr('text-anchor',a).attr('font-size',fs||15).attr('fill','#1a1a1a').text(s);
    if(r[0]) t(L+8,r[0],'end',r[0]==='*'?13:15);
    t(L+11,r[1],'start'); t(cols[1],r[2],'middle'); t(cols[2],r[3],'middle'); t(cols[3],r[4],'middle');
  });
}
plots.forEach(drawKM);
</script></body></html>
